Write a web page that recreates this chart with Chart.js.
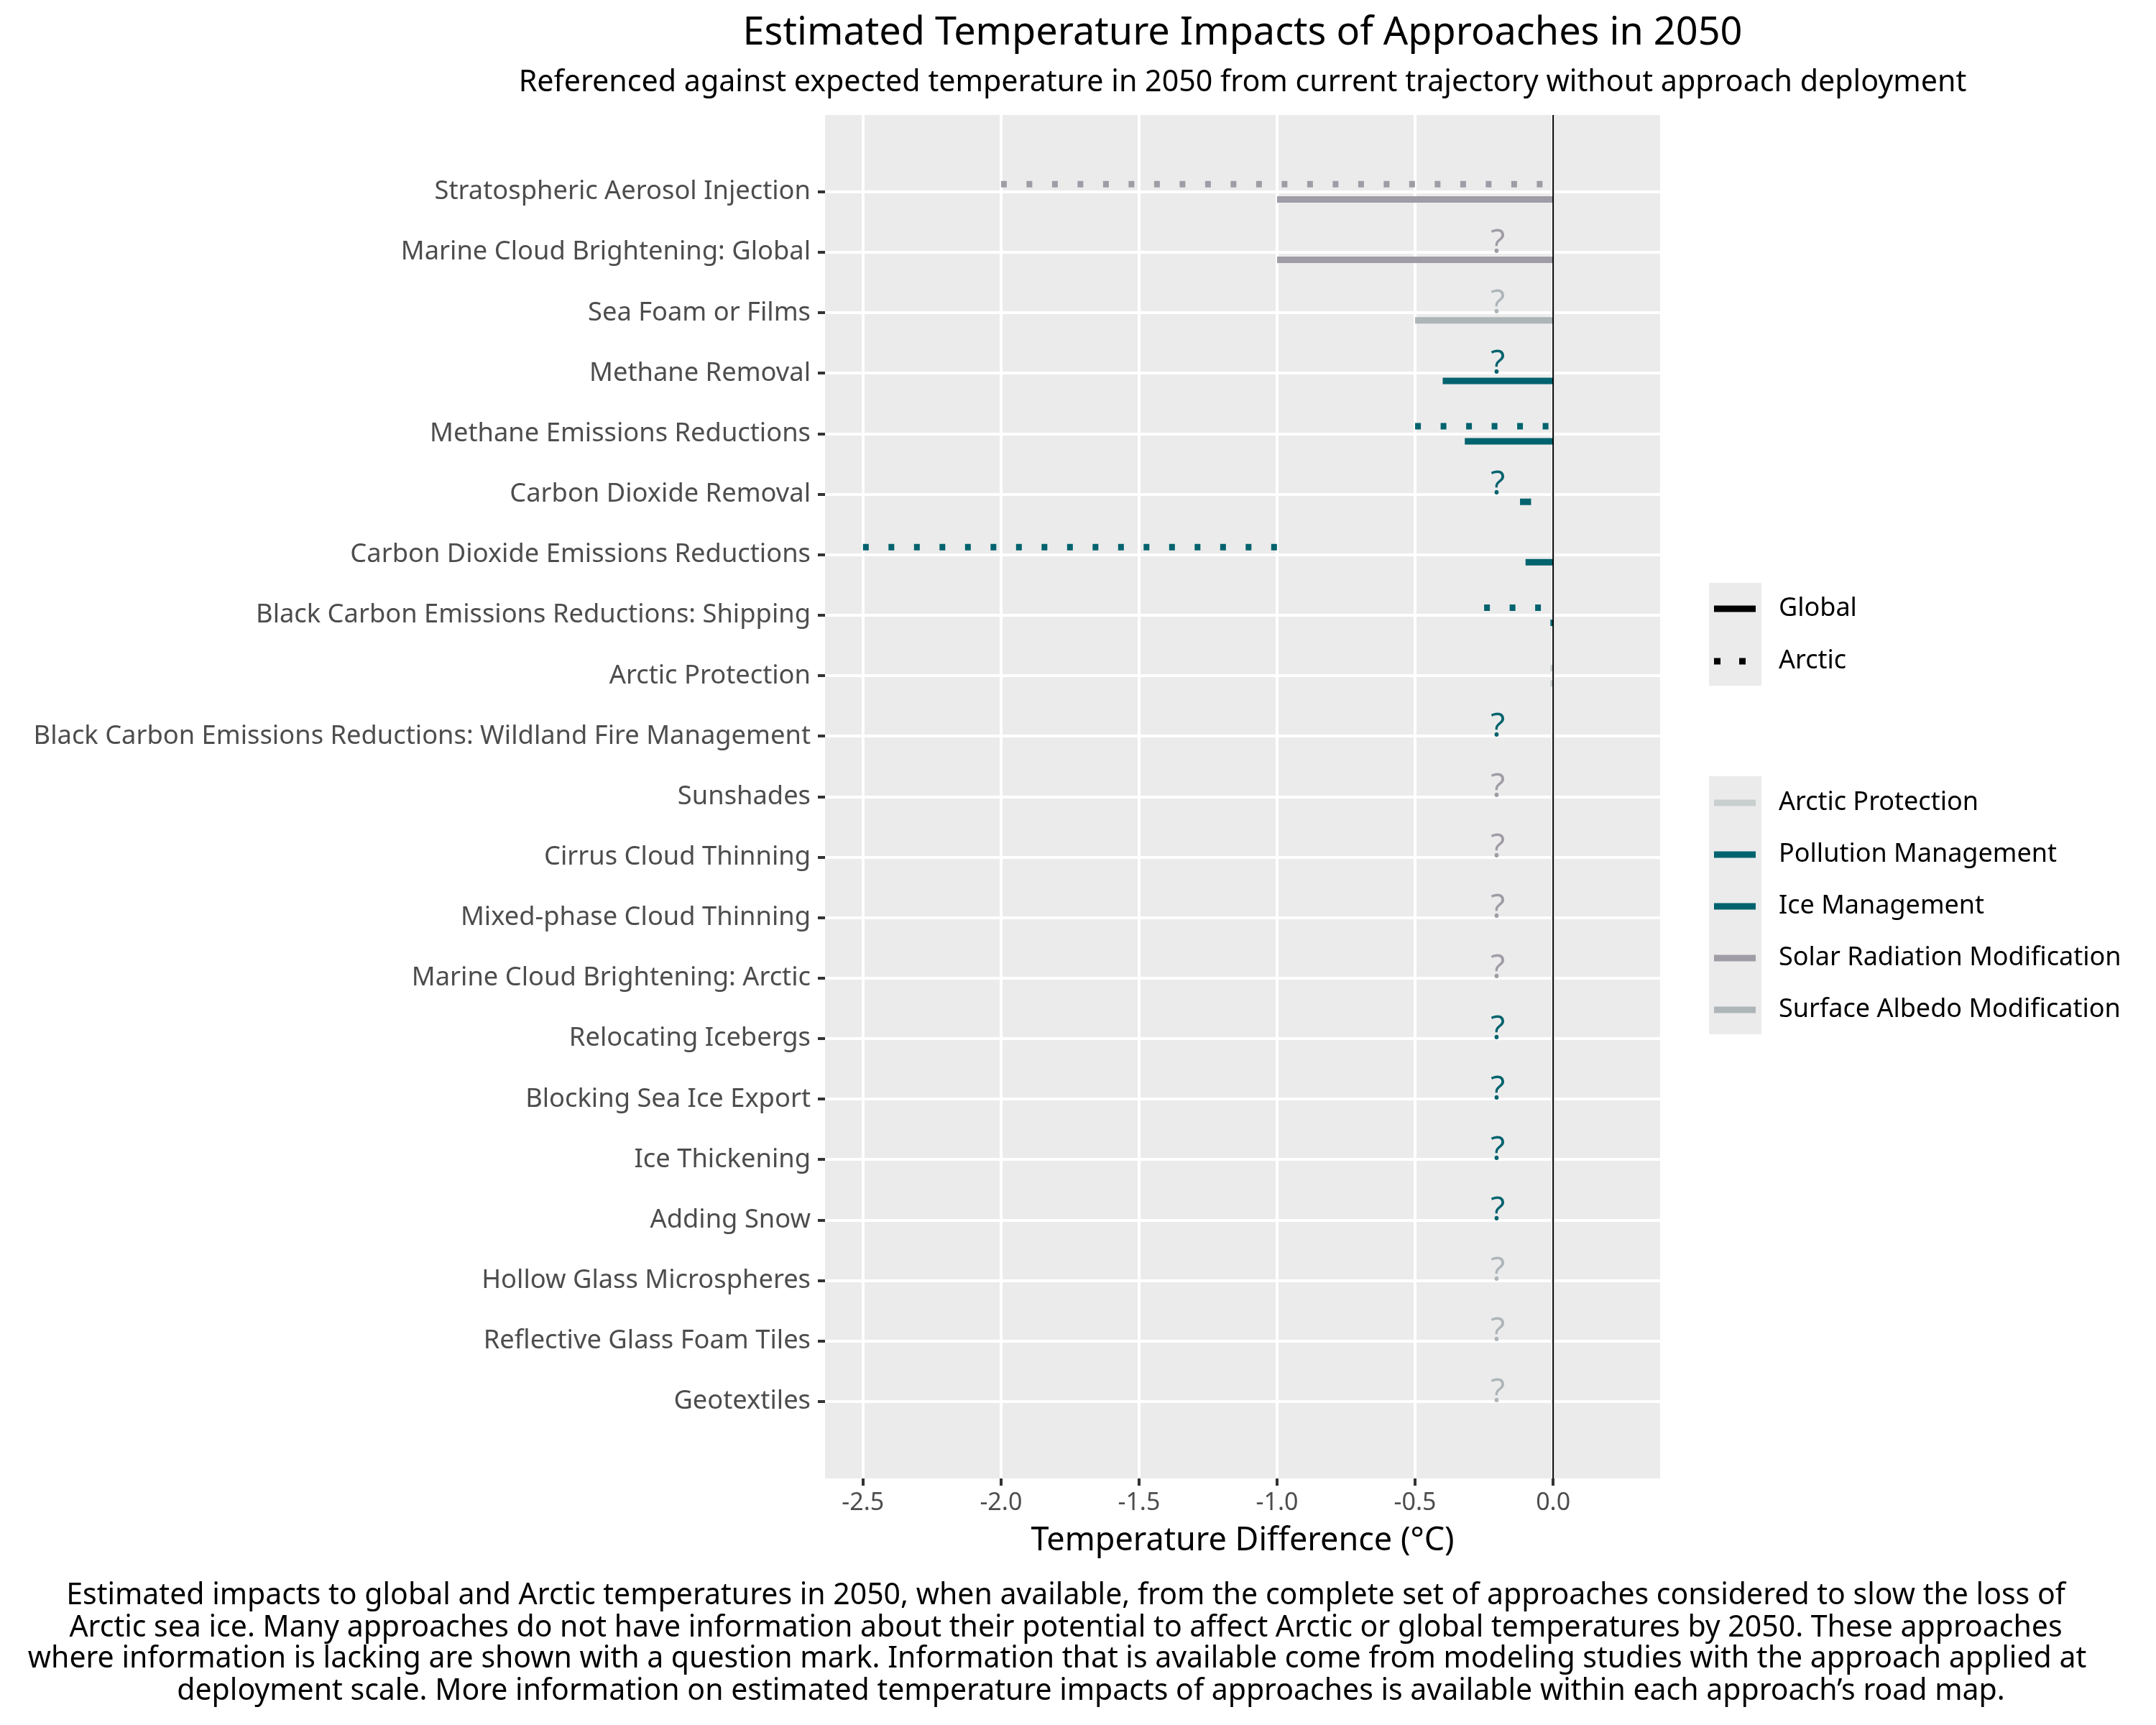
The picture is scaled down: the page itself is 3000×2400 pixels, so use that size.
<!DOCTYPE html>
<html>
<head>
<meta charset="utf-8">
<script src="https://cdn.jsdelivr.net/npm/chart.js@4.4.1/dist/chart.umd.min.js"></script>
<style>
  body { margin: 0; background: #ffffff; }
  canvas { display: block; }
</style>
</head>
<body>
<canvas id="chart" width="3000" height="2400"></canvas>
<script>
// approaches, top to bottom
var approaches = [
	"Stratospheric Aerosol Injection",
	"Marine Cloud Brightening: Global",
	"Sea Foam or Films",
	"Methane Removal",
	"Methane Emissions Reductions",
	"Carbon Dioxide Removal",
	"Carbon Dioxide Emissions Reductions",
	"Black Carbon Emissions Reductions: Shipping",
	"Arctic Protection",
	"Black Carbon Emissions Reductions: Wildland Fire Management",
	"Sunshades",
	"Cirrus Cloud Thinning",
	"Mixed-phase Cloud Thinning",
	"Marine Cloud Brightening: Arctic",
	"Relocating Icebergs",
	"Blocking Sea Ice Export",
	"Ice Thickening",
	"Adding Snow",
	"Hollow Glass Microspheres",
	"Reflective Glass Foam Tiles",
	"Geotextiles"
];
var approachGroup = [
	"Solar Radiation Modification", "Solar Radiation Modification", "Surface Albedo Modification",
	"Pollution Management", "Pollution Management", "Pollution Management", "Pollution Management",
	"Pollution Management", "Arctic Protection", "Pollution Management",
	"Solar Radiation Modification", "Solar Radiation Modification", "Solar Radiation Modification",
	"Solar Radiation Modification", "Ice Management", "Ice Management", "Ice Management",
	"Ice Management", "Surface Albedo Modification", "Surface Albedo Modification", "Surface Albedo Modification"
];

// temperature difference ranges (°C), null = no information
var globalFrom = [-1.0, -1.0, -0.5, -0.4, -0.32, -0.12, -0.1, -0.01, -0.01, null, null, null, null, null, null, null, null, null, null, null, null];
var globalTo   = [0, 0, 0, 0, 0, -0.08, 0, 0, 0, null, null, null, null, null, null, null, null, null, null, null, null];
var arcticFrom = [-2.0, null, null, null, -0.5, null, -2.5, -0.25, -0.01, null, null, null, null, null, null, null, null, null, null, null, null];
var arcticTo   = [0, null, null, null, 0, null, -1.0, 0, 0, null, null, null, null, null, null, null, null, null, null, null, null];

var unknownX = -0.2;
var xTicks = [-2.5, -2.0, -1.5, -1.0, -0.5, 0.0];

var groupNames = ["Arctic Protection", "Pollution Management", "Ice Management", "Solar Radiation Modification", "Surface Albedo Modification"];
var groupColors = ["#c8cfcf", "#01636e", "#01636e", "#a09ca6", "#adb5b9"];
var scopeNames = ["Global", "Arctic"];

var title = "Estimated Temperature Impacts of Approaches in 2050";
var subtitle = "Referenced against expected temperature in 2050 from current trajectory without approach deployment";
var xTitle = "Temperature Difference (°C)";
var caption = [
	"Estimated impacts to global and Arctic temperatures in 2050, when available, from the complete set of approaches considered to slow the loss of",
	"Arctic sea ice. Many approaches do not have information about their potential to affect Arctic or global temperatures by 2050. These approaches",
	"where information is lacking are shown with a question mark. Information that is available come from modeling studies with the approach applied at",
	"deployment scale. More information on estimated temperature impacts of approaches is available within each approach\u2019s road map."
];

var FONT = "'Noto Sans', 'Open Sans', sans-serif";
var DOT = [8, 27.5];

function colorOf(i) {
	return groupColors[groupNames.indexOf(approachGroup[i])];
}

function segment(from, to, y, color, dotted) {
	return {
		data: [{x: from, y: y}, {x: to, y: y}],
		showLine: true,
		borderColor: color,
		borderWidth: 9,
		borderDash: dotted ? DOT : [],
		borderCapStyle: 'butt',
		pointRadius: 0,
		pointHoverRadius: 0
	};
}

var datasets = [];
var qPoints = [];
var qColors = [];
for (var i = 0; i < approaches.length; i++) {
	if (arcticFrom[i] !== null) datasets.push(segment(arcticFrom[i], arcticTo[i], i - 0.125, colorOf(i), true));
	if (globalFrom[i] !== null) datasets.push(segment(globalFrom[i], globalTo[i], i + 0.125, colorOf(i), false));
	if (arcticFrom[i] === null || globalFrom[i] === null) {
		qPoints.push({x: unknownX, y: i - 0.15});
		qColors.push(colorOf(i));
	}
}
datasets.push({
	label: 'unknown',
	data: qPoints,
	pointRadius: 0,
	pointHoverRadius: 0,
	showLine: false
});

var panelPlugin = {
	id: 'panel',
	beforeDraw: function(chart) {
		var a = chart.chartArea, ctx = chart.ctx;
		ctx.save();
		ctx.fillStyle = '#ebebeb';
		ctx.fillRect(a.left, a.top, a.right - a.left, a.bottom - a.top);
		ctx.restore();
	},
	afterDatasetsDraw: function(chart) {
		var ctx = chart.ctx, a = chart.chartArea;
		var x0 = chart.scales.x.getPixelForValue(0);
		ctx.save();
		ctx.strokeStyle = '#000000';
		ctx.lineWidth = 2;
		ctx.beginPath();
		ctx.moveTo(x0, a.top);
		ctx.lineTo(x0, a.bottom);
		ctx.stroke();

		// question marks
		var meta = chart.getDatasetMeta(chart.data.datasets.length - 1);
		ctx.font = '46px ' + FONT;
		ctx.textAlign = 'center';
		ctx.textBaseline = 'middle';
		meta.data.forEach(function(pt, k) {
			ctx.fillStyle = qColors[k];
			ctx.fillText('?', pt.x, pt.y);
		});
		ctx.restore();
	},
	afterDraw: function(chart) {
		var ctx = chart.ctx, a = chart.chartArea;
		var cx = (a.left + a.right) / 2;
		ctx.save();
		ctx.fillStyle = '#000000';
		ctx.textAlign = 'center';
		ctx.textBaseline = 'alphabetic';
		ctx.font = '54px ' + FONT;
		ctx.fillText(title, cx, 62);
		ctx.font = '41.2px ' + FONT;
		ctx.fillText(subtitle, cx, 127);
		ctx.font = '45px ' + FONT;
		ctx.fillText(xTitle, cx, 2157);

		ctx.font = '41px ' + FONT;
		var capX = [1483, 1483, 1471, 1518];
		var capY = [2232, 2277, 2320, 2365];
		caption.forEach(function(line, k) {
			ctx.fillText(line, capX[k], capY[k]);
		});

		// legends
		var kx = 2378, kw = 73, tx = 2475;
		ctx.textAlign = 'left';
		ctx.textBaseline = 'middle';
		ctx.font = '36px ' + FONT;
		ctx.fillStyle = '#ebebeb';
		ctx.fillRect(kx, 811, kw, 143);
		var sy = [847, 920];
		scopeNames.forEach(function(name, k) {
			ctx.strokeStyle = '#000000';
			ctx.lineWidth = 9;
			ctx.setLineDash(k === 1 ? [9, 26] : []);
			ctx.beginPath();
			ctx.moveTo(2385, sy[k]);
			ctx.lineTo(2443, sy[k]);
			ctx.stroke();
			ctx.setLineDash([]);
			ctx.fillStyle = '#000000';
			ctx.fillText(name, tx, sy[k]);
		});
		ctx.fillStyle = '#ebebeb';
		ctx.fillRect(kx, 1080, kw, 359);
		groupNames.forEach(function(name, k) {
			var y = 1117 + k * 72;
			ctx.strokeStyle = groupColors[k];
			ctx.lineWidth = 9;
			ctx.beginPath();
			ctx.moveTo(2385, y);
			ctx.lineTo(2443, y);
			ctx.stroke();
			ctx.fillStyle = '#000000';
			ctx.fillText(name, tx, y);
		});
		ctx.restore();
	}
};

Chart.defaults.font.family = FONT;

new Chart(document.getElementById('chart'), {
	type: 'scatter',
	data: { datasets: datasets },
	options: {
		responsive: false,
		devicePixelRatio: 1,
		animation: false,
		events: [],
		layout: { autoPadding: false, padding: { left: 0, right: 690, top: 160, bottom: 243 } },
		plugins: {
			legend: { display: false },
			title: { display: false },
			tooltip: { enabled: false }
		},
		scales: {
			x: {
				type: 'linear',
				position: 'bottom',
				min: -2.6375,
				max: 0.3875,
				afterBuildTicks: function(s) { s.ticks = xTicks.map(function(v) { return {value: v}; }); },
				afterFit: function(s) { s.height = 100; },
				ticks: {
					callback: function(v) { return v.toFixed(1); },
					font: { size: 34 },
					color: '#4d4d4d',
					padding: 4,
					maxRotation: 0,
					autoSkip: false
				},
				grid: { color: '#ffffff', lineWidth: 4, tickLength: 10, tickColor: '#333333', tickWidth: 4 },
				border: { display: false }
			},
			y: {
				type: 'linear',
				position: 'left',
				reverse: true,
				min: -1.27,
				max: 21.27,
				afterBuildTicks: function(s) { s.ticks = approaches.map(function(_, i) { return {value: i}; }); },
				afterFit: function(s) { s.width = 1148; },
				ticks: {
					callback: function(v) { return approaches[v]; },
					font: { size: 36.3 },
					color: '#4d4d4d',
					padding: 10,
					autoSkip: false
				},
				grid: { color: '#ffffff', lineWidth: 4, tickLength: 10, tickColor: '#333333', tickWidth: 4 },
				border: { display: false }
			}
		}
	},
	plugins: [panelPlugin]
});
</script>
</body>
</html>
